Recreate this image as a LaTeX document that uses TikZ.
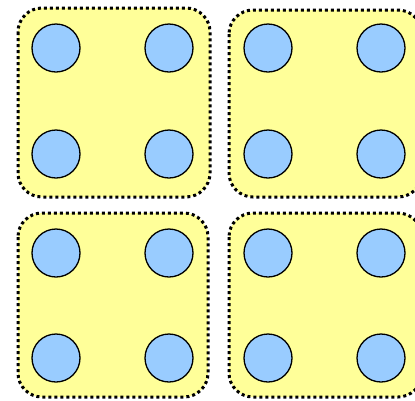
\documentclass[tikz,border=0pt]{standalone}
\definecolor{boxyellow}{HTML}{FFFF99}
\definecolor{dotblue}{HTML}{99CCFF}
\begin{document}
\begin{tikzpicture}[x=1pt,y=-1pt,
  group/.style={fill=boxyellow,draw=black,line width=3pt,dash pattern=on 3pt off 3pt,rounded corners=24pt},
  dot/.style={circle,draw=black,line width=1.3pt,fill=dotblue,minimum size=48pt,inner sep=0pt}]
\useasboundingbox (0,0) rectangle (415,400);
\clip (0,0) rectangle (415,400);
\draw[group] (18,8) rectangle (210,197);
\draw[group] (229,10) rectangle (422,197);
\draw[group] (18,213) rectangle (208,397);
\draw[group] (229,213) rectangle (422,397);
\node[dot] (a1) at (56,48) {};
\node[dot] (a2) at (169,48) {};
\node[dot] (a3) at (56,154) {};
\node[dot] (a4) at (169,154) {};
\node[dot] (b1) at (268,48) {};
\node[dot] (b2) at (381,48) {};
\node[dot] (b3) at (268,154) {};
\node[dot] (b4) at (381,154) {};
\node[dot] (c1) at (56,253) {};
\node[dot] (c2) at (169,253) {};
\node[dot] (c3) at (56,358) {};
\node[dot] (c4) at (169,358) {};
\node[dot] (d1) at (268,253) {};
\node[dot] (d2) at (381,253) {};
\node[dot] (d3) at (268,358) {};
\node[dot] (d4) at (381,358) {};
\end{tikzpicture}
\end{document}
